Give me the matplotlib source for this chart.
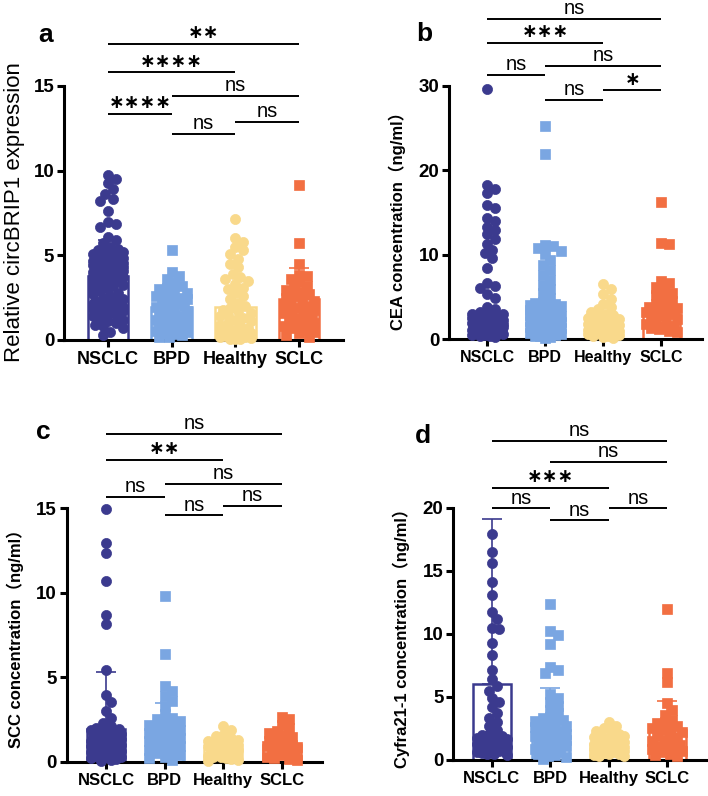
import numpy as np
import matplotlib
matplotlib.use('Agg')
import matplotlib.pyplot as plt

plt.rcParams['font.family'] = ['Liberation Sans', 'Noto Sans CJK SC', 'DejaVu Sans']

groups = ['NSCLC', 'BPD', 'Healthy', 'SCLC']
colors = ['#3B3A8E', '#7AA6E2', '#F9D98B', '#F26F42']
markers = ['o', 's', 'o', 's']

# ---------------- panel a : circBRIP1 ----------------
a_nsclc = [9.75, 9.5, 9.25, 8.9, 8.6, 8.3, 8.2, 7.6, 6.95, 6.85, 6.7, 6.1, 5.9, 5.7, 5.5, 5.4,
           5.3, 5.25, 5.2, 5.1, 5.05, 5.0, 4.95, 4.9, 4.85, 4.8, 4.8, 4.75, 4.7, 4.7, 4.65,
           4.6, 4.6, 4.55, 4.5, 4.5, 4.45, 4.4, 4.4, 4.35, 4.3, 4.3, 4.25, 4.2, 4.2, 4.15,
           4.1, 4.1, 4.05, 4.0, 4.0, 3.95, 3.9, 3.9, 3.85, 3.8, 3.8, 3.75, 3.7, 3.7, 3.65,
           3.6, 3.6, 3.55, 3.5, 3.5, 3.45, 3.4, 3.35, 3.3, 3.25, 3.2, 3.1, 3.0, 2.9, 2.8,
           2.7, 2.6, 2.5, 2.4, 2.3, 2.25, 2.2, 2.15, 2.1, 2.1, 2.05, 2.0, 2.0, 1.95, 1.9,
           1.9, 1.85, 1.8, 1.75, 1.7, 1.6, 1.5, 1.4, 1.3, 1.2, 1.1, 1.0, 0.9, 0.8, 0.7, 0.5, 0.3]
a_bpd = [5.3, 4.0, 3.8, 3.6, 3.4, 3.2, 3.1, 3.0, 2.9, 2.8, 2.7, 2.6, 2.5, 2.45, 2.4, 2.3,
         2.2, 2.1, 2.0, 1.95, 1.9, 1.8, 1.7, 1.6, 1.5, 1.4, 1.35, 1.3, 1.2, 1.1, 1.0, 0.95,
         0.9, 0.8, 0.7, 0.6, 0.55, 0.5, 0.45, 0.4, 0.35, 0.3, 0.2, 0.15]
a_healthy = [7.15, 6.0, 5.8, 5.5, 5.3, 5.1, 4.8, 4.5, 4.3, 3.9, 3.7, 3.6, 3.5, 3.3, 3.1, 3.0,
             2.8, 2.6, 2.4, 2.2, 2.0, 1.9, 1.8, 1.7, 1.6, 1.5, 1.4, 1.3, 1.2, 1.1, 1.0, 0.9,
             0.8, 0.7, 0.6, 0.55, 0.5, 0.45, 0.4, 0.35, 0.3, 0.25, 0.2, 0.15, 0.1, 0.08, 0.05, 0.03]
a_sclc = [9.15, 5.75, 4.5, 3.85, 3.75, 3.6, 3.4, 3.2, 3.05, 2.95, 2.85, 2.7, 2.6, 2.5, 2.4,
          2.3, 2.2, 2.1, 2.0, 1.9, 1.8, 1.7, 1.6, 1.5, 1.4, 1.3, 1.2, 1.1, 1.0, 0.9, 0.8,
          0.7, 0.6, 0.5, 0.4, 0.3, 0.2]
a_means = [3.78, 1.95, 1.97, 2.4]
a_sds = [2.12, 1.25, 1.81, 1.83]
a_sig = ['∗∗', '∗∗∗∗', 'ns', '∗∗∗∗', 'ns', 'ns']

# ---------------- panel b : CEA ----------------
b_nsclc = [29.7, 18.3, 17.8, 17.3, 15.9, 15.5, 14.4, 14.0, 13.3, 12.9, 12.4, 11.9, 11.3, 10.6,
           10.2, 9.6, 8.4, 6.6, 6.3, 6.0, 5.3, 4.9, 3.8, 3.5, 3.2, 3.0, 2.95, 2.9, 2.85, 2.8,
           2.7, 2.65, 2.6, 2.5, 2.45, 2.4, 2.3, 2.25, 2.2, 2.1, 2.05, 2.0, 1.9, 1.85, 1.8,
           1.7, 1.65, 1.6, 1.5, 1.45, 1.4, 1.3, 1.25, 1.2, 1.1, 1.05, 1.0, 0.9, 0.85, 0.8,
           0.7, 0.65, 0.6, 0.5, 0.45, 0.4, 0.3, 0.2]
b_bpd = [25.2, 21.9, 11.2, 11.0, 10.8, 10.4, 10.1, 9.4, 8.8, 8.2, 7.6, 7.0, 6.4, 5.9, 5.4,
         4.9, 4.4, 4.3, 4.2, 4.1, 4.0, 3.9, 3.8, 3.7, 3.6, 3.5, 3.4, 3.3, 3.2, 3.1, 3.0, 2.9,
         2.8, 2.7, 2.6, 2.5, 2.4, 2.3, 2.2, 2.1, 2.0, 1.9, 1.8, 1.7, 1.6, 1.5, 1.4, 1.3,
         1.2, 1.1, 1.0, 0.9, 0.8, 0.7, 0.6, 0.5, 0.4, 0.3, 0.2, 0.1]
b_healthy = [6.5, 5.9, 5.3, 4.7, 4.2, 3.8, 3.5, 3.2, 3.0, 2.8, 2.6, 2.5, 2.4, 2.3, 2.2, 2.1,
             2.0, 1.9, 1.8, 1.7, 1.6, 1.5, 1.4, 1.3, 1.2, 1.1, 1.0, 0.95, 0.9, 0.85, 0.8, 0.7,
             0.6, 0.5, 0.4, 0.3, 0.2, 0.1]
b_sclc = [16.2, 11.4, 11.3, 6.9, 6.6, 6.2, 5.8, 5.5, 5.2, 4.8, 4.5, 4.2, 3.9, 3.8, 3.7, 3.6,
          3.5, 3.4, 3.3, 3.2, 3.1, 3.0, 2.8, 2.6, 2.4, 2.2, 2.0, 1.8, 1.6, 1.4, 1.3, 1.2, 1.0, 0.8]
b_means = [2.0, 2.2, 1.5, 3.0]
b_sds = [1.0, 1.8, 1.0, 2.5]
b_sig = ['ns', '∗∗∗', 'ns', 'ns', '∗', 'ns']

# ---------------- panel c : SCC ----------------
c_nsclc = [14.95, 12.95, 12.35, 10.7, 8.7, 8.15, 5.4, 3.95, 3.55, 3.0, 2.6, 2.3, 2.1, 2.0,
           1.95, 1.9, 1.85, 1.8, 1.75, 1.7, 1.65, 1.6, 1.55, 1.5, 1.45, 1.4, 1.35, 1.3, 1.25,
           1.2, 1.15, 1.1, 1.05, 1.0, 0.95, 0.9, 0.85, 0.8, 0.75, 0.7, 0.65, 0.6, 0.55, 0.5,
           0.45, 0.4, 0.35, 0.3, 0.25, 0.2, 0.15, 0.1, 0.05]
c_bpd = [9.8, 6.4, 4.5, 4.2, 3.9, 3.6, 3.3, 2.8, 2.6, 2.5, 2.4, 2.3, 2.2, 2.1, 2.0, 1.9, 1.8,
         1.7, 1.6, 1.5, 1.4, 1.3, 1.2, 1.1, 1.0, 0.9, 0.8, 0.7, 0.6, 0.5, 0.4, 0.3, 0.2, 0.1]
c_healthy = [2.1, 1.85, 1.6, 1.5, 1.4, 1.3, 1.25, 1.2, 1.15, 1.1, 1.05, 1.0, 0.95, 0.9, 0.85,
             0.8, 0.75, 0.7, 0.65, 0.6, 0.55, 0.5, 0.45, 0.4, 0.35, 0.3, 0.25, 0.2, 0.15,
             0.1, 0.05]
c_sclc = [2.65, 2.5, 2.2, 2.0, 1.8, 1.7, 1.6, 1.45, 1.3, 1.2, 1.1, 1.0, 0.95, 0.9, 0.85, 0.8,
          0.7, 0.6, 0.5, 0.4, 0.3, 0.2, 0.15, 0.1]
c_means = [1.92, 1.68, 0.8, 1.0]
c_sds = [3.41, 1.78, 0.5, 0.7]
c_sig = ['ns', '∗∗', 'ns', 'ns', 'ns', 'ns']

# ---------------- panel d : Cyfra21-1 ----------------
d_nsclc = [17.9, 16.5, 15.6, 14.1, 13.1, 11.7, 11.2, 10.5, 10.4, 9.3, 8.3, 7.1, 6.4, 5.9, 5.5,
           4.9, 4.6, 4.2, 3.7, 3.3, 3.0, 2.7, 2.4, 2.1, 2.0, 1.9, 1.8, 1.75, 1.7, 1.6, 1.55,
           1.5, 1.4, 1.35, 1.3, 1.2, 1.15, 1.1, 1.0, 0.95, 0.9, 0.85, 0.8, 0.75, 0.7, 0.65,
           0.6, 0.55, 0.5, 0.45, 0.4]
d_bpd = [12.4, 10.2, 9.9, 9.2, 7.4, 7.1, 6.9, 5.2, 4.9, 4.6, 4.3, 4.0, 3.7, 3.4, 3.3, 3.2,
         3.1, 3.0, 2.9, 2.8, 2.7, 2.6, 2.5, 2.4, 2.3, 2.2, 2.1, 2.0, 1.9, 1.8, 1.7, 1.6, 1.5,
         1.4, 1.3, 1.2, 1.1, 1.0, 0.9, 0.8, 0.7, 0.6, 0.5, 0.4, 0.3, 0.2, 0.1]
d_healthy = [3.0, 2.7, 2.5, 2.3, 2.2, 2.1, 2.0, 1.9, 1.8, 1.7, 1.6, 1.5, 1.45, 1.4, 1.3, 1.25,
             1.2, 1.1, 1.05, 1.0, 0.95, 0.9, 0.85, 0.8, 0.75, 0.7, 0.65, 0.6, 0.55, 0.5, 0.45,
             0.4, 0.35, 0.3]
d_sclc = [12.0, 6.9, 6.2, 4.5, 4.0, 3.6, 3.2, 3.0, 2.9, 2.7, 2.6, 2.5, 2.4, 2.2, 2.0, 1.9,
          1.8, 1.6, 1.5, 1.4, 1.2, 1.1, 1.0, 0.9, 0.8, 0.7, 0.6, 0.5, 0.4, 0.3]
d_means = [6.0, 2.9, 1.3, 2.4]
d_sds = [13.1, 2.8, 0.7, 2.3]
d_sig = ['ns', 'ns', '∗∗∗', 'ns', 'ns', 'ns']

# bracket pairs (group indices) in the same order as the *_sig lists
a_pairs = [(0, 3), (0, 2), (1, 3), (0, 1), (2, 3), (1, 2)]
b_pairs = [(0, 3), (0, 2), (1, 3), (0, 1), (2, 3), (1, 2)]
c_pairs = [(0, 3), (0, 2), (1, 3), (0, 1), (2, 3), (1, 2)]
d_pairs = [(0, 3), (1, 3), (0, 2), (0, 1), (2, 3), (1, 2)]

ylabels = ['Relative circBRIP1 expression', 'CEA concentration（ng/ml）',
           'SCC concentration（ng/ml）', 'Cyfra21-1 concentration（ng/ml）']

W, H = 708, 796
fig = plt.figure(figsize=(W / 100, H / 100), dpi=100)


def rect(l, r, b, t):
    return [l / W, 1 - b / H, (r - l) / W, (b - t) / H]


panels = [
    dict(rect=rect(64, 343, 340, 86), ylim=15, yt=[0, 5, 10, 15], xl=(-0.69, 3.69),
         data=[a_nsclc, a_bpd, a_healthy, a_sclc], means=a_means, sds=a_sds, sig=a_sig, pairs=a_pairs,
         heights=[17.5, 15.8, 14.43, 13.35, 12.88, 12.15], letter='a', lpos=(46, 35),
         ylab=(15, 212), ylfs=16, ylw='normal', xfs=13),
    dict(rect=rect(449, 702, 339, 86), ylim=30, yt=[0, 10, 20, 30], xl=(-0.66, 3.70),
         data=[b_nsclc, b_bpd, b_healthy, b_sclc], means=b_means, sds=b_sds, sig=b_sig, pairs=b_pairs,
         heights=[38.0, 35.1, 32.4, 31.3, 29.5, 28.3], letter='b', lpos=(424, 34),
         ylab=(397, 217), ylfs=12, ylw='bold', xfs=11.5),
    dict(rect=rect(66.7, 321.7, 761.7, 508.3), ylim=15, yt=[0, 5, 10, 15], xl=(-0.67, 3.68),
         data=[c_nsclc, c_bpd, c_healthy, c_sclc], means=c_means, sds=c_sds, sig=c_sig, pairs=c_pairs,
         heights=[19.4, 17.86, 16.44, 15.67, 15.15, 14.58], letter='c', lpos=(43, 432),
         ylab=(15, 635), ylfs=12, ylw='bold', xfs=12),
    dict(rect=rect(453.3, 707, 760, 507.7), ylim=20, yt=[0, 5, 10, 15, 20], xl=(-0.66, 3.68),
         data=[d_nsclc, d_bpd, d_healthy, d_sclc], means=d_means, sds=d_sds, sig=d_sig, pairs=d_pairs,
         heights=[25.3, 23.6, 21.6, 19.94, 19.94, 18.99], letter='d', lpos=(423, 436),
         ylab=(401, 634), ylfs=12, ylw='bold', xfs=12),
]

MS = 7.3  # marker size (pt)


def swarm(ax, values, xc, half_width_px, diam_px, frac=0.72):
    vals = np.asarray(values, float)
    pts = ax.transData.transform(np.column_stack([np.full(len(vals), xc), vals]))
    ys = pts[:, 1]
    x0 = pts[0, 0]
    step = diam_px * 0.25
    cands = [0.0]
    k = 1
    while k * step <= half_width_px:
        cands += [k * step, -k * step]
        k += 1
    dmin = diam_px * frac
    placed_x, placed_y = [], []
    offs = np.zeros(len(vals))
    for i in np.argsort(ys)[::-1]:
        y = ys[i]
        best, bestd = 0.0, -1
        px = np.array(placed_x)
        py = np.array(placed_y)
        for c in cands:
            if len(px):
                d = np.min(np.hypot(px - c, py - y))
            else:
                d = np.inf
            if d >= dmin:
                best = c
                break
            if d > bestd:
                bestd, best = d, c
        offs[i] = best
        placed_x.append(best)
        placed_y.append(y)
    xs = ax.transData.inverted().transform(np.column_stack([x0 + offs, ys]))[:, 0]
    return xs, vals


for idx, p in enumerate(panels):
    ax = fig.add_axes(p['rect'])
    ax.set_xlim(*p['xl'])
    ax.set_ylim(0, p['ylim'])
    for s in ['top', 'right']:
        ax.spines[s].set_visible(False)
    for s in ['left', 'bottom']:
        ax.spines[s].set_linewidth(2.2)
    ax.set_yticks(p['yt'])
    ax.set_xticks(range(4))
    ax.set_xticklabels(groups, fontsize=p['xfs'], fontweight='bold')
    ax.tick_params(axis='y', labelsize=13.5, width=2.2, length=5, pad=2)
    ax.tick_params(axis='x', width=2.2, length=5, pad=3)
    for lab in ax.get_yticklabels():
        lab.set_fontweight('bold')
    ax.patch.set_alpha(0)

    pxu = ax.transData.transform((1, 0))[0] - ax.transData.transform((0, 0))[0]
    diam = MS * 100 / 72
    for i in range(4):
        ax.bar(i, p['means'][i], width=0.64, facecolor='white', edgecolor=colors[i],
               linewidth=1.8, zorder=1)
        ax.errorbar(i, p['means'][i], yerr=[[0], [p['sds'][i]]], fmt='none', ecolor=colors[i],
                    elinewidth=1.2, capsize=7, capthick=1.2, zorder=2)
        xs, ys = swarm(ax, p['data'][i], i, 0.27 * pxu, diam)
        ax.plot(xs, ys, linestyle='none', marker=markers[i],
                markersize=MS if markers[i] == 'o' else MS * 0.92,
                markerfacecolor=colors[i], markeredgecolor=colors[i], markeredgewidth=0.5,
                zorder=3, clip_on=False)

    for (g1, g2), h, lab in zip(p['pairs'], p['heights'], p['sig']):
        ax.plot([g1, g2], [h, h], color='black', linewidth=1.4, clip_on=False, solid_capstyle='butt')
        xm = (g1 + g2) / 2
        if lab == 'ns':
            ax.annotate(lab, (xm, h), xytext=(0, 3.5), textcoords='offset points', ha='center',
                        va='baseline', fontsize=14.5, annotation_clip=False)
        else:
            ax.annotate(lab, (xm, h), xytext=(0, 8), textcoords='offset points', ha='center',
                        va='center', fontsize=13.5, fontweight='bold', family=['DejaVu Sans'],
                        annotation_clip=False)

    fig.text(p['lpos'][0] / W, 1 - p['lpos'][1] / H, p['letter'], fontsize=19, fontweight='bold',
             ha='center', va='center')
    fig.text(p['ylab'][0] / W, 1 - p['ylab'][1] / H, ylabels[idx], rotation=90,
             fontsize=p['ylfs'], fontweight=p['ylw'], ha='center', va='center')

fig.savefig('out.png', dpi=100)
